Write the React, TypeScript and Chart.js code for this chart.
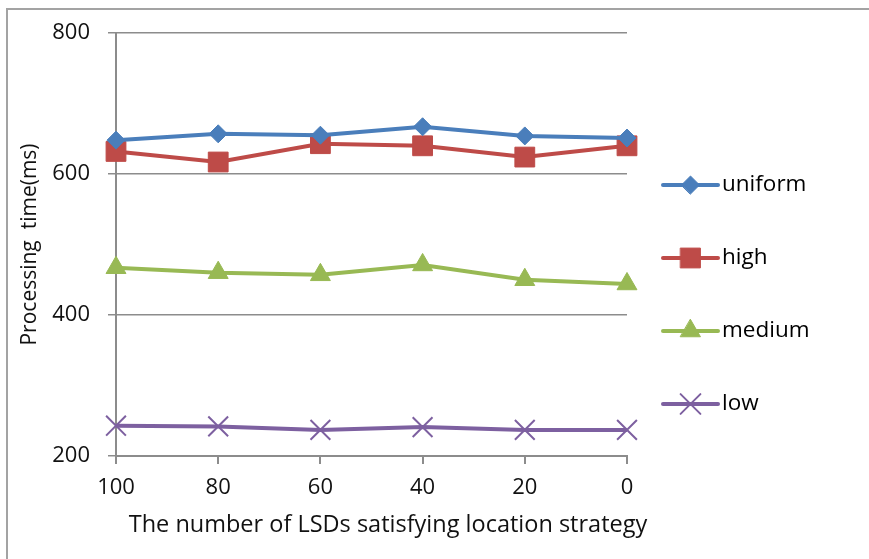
import { useEffect, useRef } from "react";
import { Chart, registerables } from "chart.js";
import { drawPoint } from "chart.js/helpers";

Chart.register(...registerables);

// Number of LSDs satisfying the location strategy (x axis, descending)
const categories = ["100", "80", "60", "40", "20", "0"];

// Processing time in ms for each distribution
const uniform = [648, 657, 655, 667, 654, 651];
const high = [632, 617, 643, 640, 624, 640];
const medium = [467, 460, 457, 471, 450, 444];
const low = [243, 242, 237, 241, 237, 237];

const seriesNames = ["uniform", "high", "medium", "low"];
const seriesColors = ["#4A7EBB", "#BE4B48", "#98B954", "#7D60A0"];
const pointStyles = ["rectRot", "rect", "triangle", "crossRot"] as const;
const pointRadii = [9, 14, 11.5, 14];

const yMin = 200;
const yMax = 800;
const yStep = 200;

const xTitle = "The number of LSDs satisfying location strategy";
const yTitle = "Processing  time(ms)";

const FONT = "'Open Sans', 'DejaVu Sans', sans-serif";
const GRID = "#8c8c8c";

// Outer frame of the figure: top and left edges only
const framePlugin = {
  id: "frame",
  beforeDraw(chart: any) {
    const ctx = chart.ctx;
    ctx.save();
    ctx.fillStyle = "#ffffff";
    ctx.fillRect(0, 0, chart.width, chart.height);
    ctx.strokeStyle = "#a3a3a3";
    ctx.lineWidth = 2;
    ctx.beginPath();
    ctx.moveTo(7, chart.height);
    ctx.lineTo(7, 9);
    ctx.lineTo(chart.width, 9);
    ctx.stroke();
    ctx.restore();
  },
};

// X axis caption, centred a little to the right of the plot
const xTitlePlugin = {
  id: "xTitle",
  afterDraw(chart: any) {
    const ctx = chart.ctx;
    ctx.save();
    ctx.fillStyle = "#111111";
    ctx.font = `23.5px ${FONT}`;
    ctx.textAlign = "center";
    ctx.textBaseline = "middle";
    ctx.fillText(xTitle, 388, 525);
    ctx.restore();
  },
};

// Legend on the right: line segment with marker, then the series name
const sideLegendPlugin = {
  id: "sideLegend",
  afterDraw(chart: any) {
    const ctx = chart.ctx;
    const x0 = 663;
    const x1 = 718;
    chart.data.datasets.forEach((ds: any, i: number) => {
      const y = 185 + i * 73;
      ctx.save();
      ctx.strokeStyle = ds.borderColor;
      ctx.lineWidth = 4;
      ctx.lineCap = "round";
      ctx.beginPath();
      ctx.moveTo(x0, y);
      ctx.lineTo(x1, y);
      ctx.stroke();
      ctx.fillStyle = ds.pointBackgroundColor;
      ctx.strokeStyle = ds.pointBorderColor;
      ctx.lineWidth = ds.pointBorderWidth;
      drawPoint(ctx, { pointStyle: ds.pointStyle, radius: ds.pointRadius, rotation: 0, borderWidth: ds.pointBorderWidth }, (x0 + x1) / 2, y);
      ctx.fillStyle = "#000000";
      ctx.font = `22.5px ${FONT}`;
      ctx.textBaseline = "middle";
      ctx.textAlign = "left";
      ctx.fillText(ds.label, 722, y);
      ctx.restore();
    });
  },
};

export default function App() {
  const canvasRef = useRef<HTMLCanvasElement | null>(null);

  useEffect(() => {
    const canvas = canvasRef.current;
    if (!canvas) return;
    const values = [uniform, high, medium, low];
    const chart = new Chart(canvas, {
      type: "line",
      data: {
        labels: categories,
        datasets: values.map((data, i) => ({
          label: seriesNames[i],
          data,
          borderColor: seriesColors[i],
          backgroundColor: seriesColors[i],
          borderWidth: 4,
          pointStyle: pointStyles[i],
          pointRadius: pointRadii[i],
          pointHoverRadius: pointRadii[i],
          pointBackgroundColor: seriesColors[i],
          pointBorderColor: seriesColors[i],
          pointBorderWidth: pointStyles[i] === "crossRot" ? 2 : 1,
          tension: 0,
          fill: false,
        })),
      },
      options: {
        responsive: false,
        animation: false,
        layout: { padding: { top: 33, right: 242, left: 0, bottom: 0 } },
        plugins: {
          legend: { display: false },
          tooltip: { enabled: false },
        },
        scales: {
          x: {
            type: "category",
            offset: false,
            grid: {
              display: true,
              drawOnChartArea: false,
              drawTicks: true,
              tickLength: 8,
              color: GRID,
              lineWidth: 2,
            },
            border: { display: true, color: GRID, width: 2 },
            ticks: {
              color: "#111111",
              font: { family: FONT, size: 22 },
              padding: 11,
              maxRotation: 0,
            },
            title: { display: false },
            afterFit(scale: any) {
              scale.height = 103;
            },
          },
          y: {
            min: yMin,
            max: yMax,
            grid: {
              color: GRID,
              lineWidth: 1.5,
              tickLength: 8,
            },
            border: { display: true, color: GRID, width: 2 },
            ticks: {
              stepSize: yStep,
              color: "#111111",
              font: { family: FONT, size: 22 },
              padding: 18,
            },
            title: {
              display: true,
              text: yTitle,
              color: "#111111",
              font: { family: FONT, size: 21 },
              padding: { top: 17, bottom: 17 },
            },
            afterFit(scale: any) {
              scale.width = 116;
            },
          },
        },
      },
      plugins: [framePlugin, xTitlePlugin, sideLegendPlugin],
    });
    return () => chart.destroy();
  }, []);

  return (
    <div style={{ position: "fixed", left: 0, top: 0, width: 869, height: 559, background: "#ffffff" }}>
      <canvas ref={canvasRef} width={869} height={559} style={{ display: "block" }} />
    </div>
  );
}
